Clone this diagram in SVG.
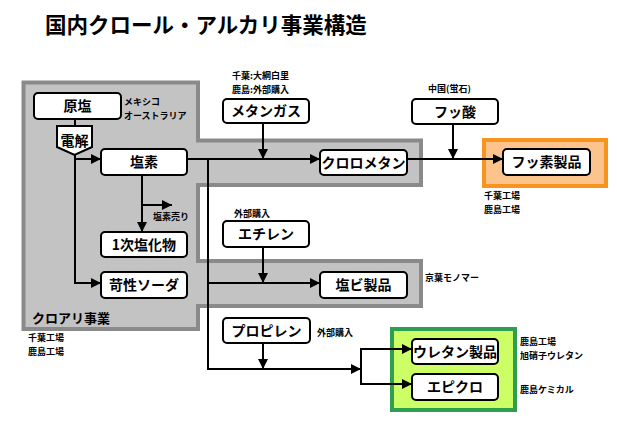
<svg xmlns="http://www.w3.org/2000/svg" width="617" height="421" viewBox="0 0 617 421">
<defs>
<marker id="ah" markerUnits="userSpaceOnUse" markerWidth="10" markerHeight="10" viewBox="0 0 10 10" refX="10" refY="5" orient="auto">
<path d="M0,0 L10,5 L0,10 z" fill="#000"/>
</marker>
</defs>
<style>
.bx{fill:#fff;stroke:#000;stroke-width:2}
.t{font-family:"Noto Sans CJK JP","Noto Sans CJK SC",sans-serif;font-weight:bold;font-size:14px;fill:#000;text-anchor:middle}
.s{font-family:"Noto Sans CJK JP","Noto Sans CJK SC",sans-serif;font-weight:bold;font-size:9px;fill:#000}
.c{fill:none;stroke:#000;stroke-width:2}
.a{marker-end:url(#ah)}
</style>
<rect width="617" height="421" fill="#fff"/>
<text x="45" y="33" font-family="Noto Sans CJK JP,sans-serif" font-weight="bold" font-size="21.5" fill="#000">国内クロール・アルカリ事業構造</text>

<g id="chlor-alkali-area">
<polygon points="23.5,82.5 198,82.5 198,140.5 421,140.5 421,185 198,185 198,261 421,261 421,306 198,306 198,329 23.5,329" fill="#c3c3c3" stroke="#8a8a8a" stroke-width="4"/>
<text x="32" y="323" font-family="Noto Sans CJK JP,sans-serif" font-weight="bold" font-size="13" fill="#000">クロアリ事業</text>
</g>
<g id="fluoro-area">
<rect x="484" y="140" width="122" height="46" fill="#fcc48c" stroke="#f7941d" stroke-width="4"/>
</g>
<g id="urethane-area">
<rect x="392" y="329" width="123" height="81" fill="#ccff66" stroke="#2e9e4f" stroke-width="4"/>
</g>

<g id="connectors">
<line class="c" x1="75" y1="119" x2="75" y2="126"/>
<polyline class="c a" points="75,155 75,283 101,283"/>
<polyline class="c a" points="75,159 101,159"/>
<polyline class="c a" points="187,159 320,159"/>
<polyline class="c a" points="208,159 208,369 361,369"/>
<polyline class="c a" points="263,123 263,159"/>
<polyline class="c a" points="142,175 142,232"/>
<polyline class="c a" points="142,205 172,205"/>
<polyline class="c a" points="407,159 503,159"/>
<polyline class="c a" points="453,124 453,159"/>
<polyline class="c a" points="263,247 263,283"/>
<polyline class="c a" points="208,283 320,283"/>
<polyline class="c a" points="263,343 263,369"/>
<polyline class="c a" points="361,366 361,349 412,349"/>
<polyline class="c a" points="361,366 361,384 412,384"/>
</g>

<g id="gen-en"><rect class="bx" x="34" y="93" width="87" height="26" rx="4"/><text class="t" x="77.5" y="111">原塩</text></g>
<text class="s" x="124" y="105">メキシコ</text>
<text class="s" x="124" y="118.5">オーストラリア</text>
<g id="denkai"><path class="bx" d="M57,126 L92,126 L92,147 L74.5,155 L57,147 Z"/><text class="t" x="74.5" y="146">電解</text></g>
<g id="enso"><rect class="bx" x="101" y="149" width="86" height="26" rx="4"/><text class="t" x="144" y="167">塩素</text></g>
<text class="s" x="153" y="220">塩素売り</text>
<g id="ichiji"><rect class="bx" x="101" y="232" width="86" height="25" rx="4"/><text class="t" x="144" y="250">1次塩化物</text></g>
<g id="kasei"><rect class="bx" x="101" y="272" width="86" height="26" rx="4"/><text class="t" x="144" y="290">苛性ソーダ</text></g>
<text class="s" x="28" y="341">千葉工場</text>
<text class="s" x="28" y="354.5">鹿島工場</text>

<text class="s" x="232" y="79">千葉:大網白里</text>
<text class="s" x="232" y="92.5">鹿島:外部購入</text>
<g id="methane"><rect class="bx" x="223" y="99" width="86" height="24" rx="4"/><text class="t" x="266" y="116">メタンガス</text></g>
<g id="chloromethane"><rect class="bx" x="320" y="150" width="87" height="25" rx="4"/><text class="t" x="363.5" y="167.5">クロロメタン</text></g>
<text class="s" x="428" y="92">中国(蛍石)</text>
<g id="fussan"><rect class="bx" x="412" y="99" width="86" height="25" rx="4"/><text class="t" x="455" y="117">フッ酸</text></g>
<g id="fusso"><rect class="bx" x="503" y="149" width="87" height="26" rx="4"/><text class="t" x="546.5" y="167">フッ素製品</text></g>
<text class="s" x="484" y="199">千葉工場</text>
<text class="s" x="484" y="212.5">鹿島工場</text>

<text class="s" x="234" y="217">外部購入</text>
<g id="ethylene"><rect class="bx" x="223" y="221" width="86" height="26" rx="4"/><text class="t" x="266" y="239">エチレン</text></g>
<g id="enbi"><rect class="bx" x="320" y="272" width="87" height="26" rx="4"/><text class="t" x="363.5" y="290">塩ビ製品</text></g>
<text class="s" x="425" y="281">京葉モノマー</text>

<g id="propylene"><rect class="bx" x="223" y="318" width="87" height="25" rx="4"/><text class="t" x="266.5" y="336">プロピレン</text></g>
<text class="s" x="317" y="336">外部購入</text>
<g id="urethane"><rect class="bx" x="412" y="339" width="86" height="25" rx="4"/><text class="t" x="455" y="357">ウレタン製品</text></g>
<g id="epichlo"><rect class="bx" x="412" y="374" width="86" height="26" rx="4"/><text class="t" x="455" y="392">エピクロ</text></g>
<text class="s" x="520" y="345">鹿島工場</text>
<text class="s" x="520" y="358.5">旭硝子ウレタン</text>
<text class="s" x="520" y="393">鹿島ケミカル</text>
</svg>
